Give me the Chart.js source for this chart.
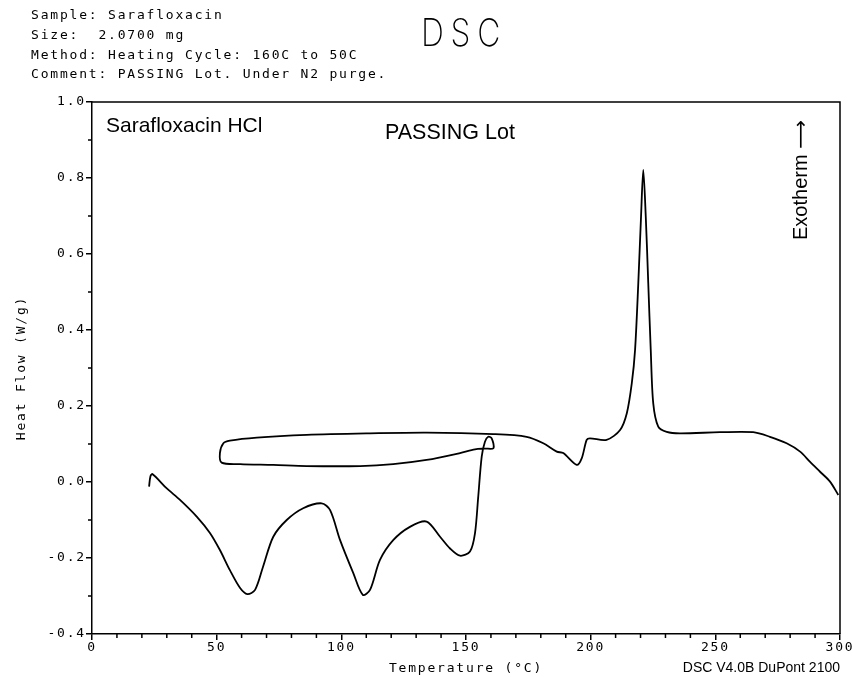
<!DOCTYPE html>
<html>
<head>
<meta charset="utf-8">
<title>DSC - Sarafloxacin</title>
<script src="https://cdn.jsdelivr.net/npm/chart.js@4.4.1/dist/chart.umd.min.js"></script>
<style>
  body { margin: 0; background: #fff; }
  #wrap { position: relative; width: 853px; height: 677px; }
  #dsc { position: absolute; left: 0; top: 0; }
  .hdr { position: absolute; left: 31px; font: 13px "DejaVu Sans Mono", monospace; letter-spacing: 1.8px; white-space: pre; color: #000; line-height: 15px; }
  #big { position: absolute; left: 421px; top: 13px; font: 200 38px Inter, "DejaVu Sans", sans-serif; letter-spacing: 8px; color: #000; transform: scaleX(0.84); transform-origin: left top; line-height: 38px; }
  #ver { position: absolute; right: 13px; top: 659px; font: 14px "Liberation Sans Narrow", "Arial Narrow", "Liberation Sans", sans-serif; color: #000; line-height: 16px; }
</style>
</head>
<body>
<div id="wrap">
  <canvas id="dsc" width="853" height="677"></canvas>
  <div class="hdr" style="top:7px">Sample: Sarafloxacin</div>
  <div class="hdr" style="top:27px">Size:  2.0700 mg</div>
  <div class="hdr" style="top:47px">Method: Heating Cycle: 160C to 50C</div>
  <div class="hdr" style="top:66px">Comment: PASSING Lot. Under N2 purge.</div>
  <div id="big">DSC</div>
  <div id="ver">DSC V4.0B DuPont 2100</div>
</div>
<script>
// first heating, 23C up to 160C
const heatTemp = [22.9, 23.4, 24.2, 30.0, 35.3, 42.0, 47.3, 51.3, 55.3, 59.4, 62.3, 65.4, 68.6, 72.7, 78.1, 84.7, 92.1, 95.5, 99.5, 104.8, 108.6, 111.5, 115.5, 120.8, 127.5, 134.2, 139.6, 143.6, 147.6, 151.6, 153.6, 154.9, 156.3, 157.6, 158.9, 160.3, 161.0];
const heatFlow = [-0.012, 0.014, 0.021, -0.017, -0.047, -0.091, -0.134, -0.179, -0.232, -0.279, -0.295, -0.284, -0.223, -0.144, -0.100, -0.069, -0.056, -0.074, -0.153, -0.240, -0.297, -0.284, -0.205, -0.153, -0.118, -0.104, -0.144, -0.175, -0.194, -0.183, -0.135, -0.039, 0.067, 0.106, 0.119, 0.115, 0.089];
// cooling back to 50C
const coolTemp = [157.5, 153.6, 147.6, 134.2, 120.8, 107.5, 86.1, 72.7, 59.4, 52.0];
const coolFlow = [0.088, 0.086, 0.076, 0.058, 0.047, 0.042, 0.042, 0.045, 0.047, 0.051];
// second heating up to 300C
const reheatTemp = [51.3, 52.7, 55.3, 66.1, 86.1, 111.5, 134.2, 161.0, 174.3, 181.0, 186.4, 189.0, 194.4, 196.4, 198.4, 199.7, 206.4, 211.8, 214.5, 216.5, 217.8, 219.1, 220.2, 221.1, 222.1, 223.1, 224.1, 225.1, 227.1, 230.5, 235.8, 251.9, 265.2, 271.9, 278.6, 284.0, 288.0, 292.0, 296.0, 299.3];
const reheatFlow = [0.076, 0.102, 0.109, 0.117, 0.124, 0.128, 0.130, 0.126, 0.119, 0.102, 0.080, 0.076, 0.045, 0.062, 0.111, 0.115, 0.111, 0.137, 0.181, 0.260, 0.347, 0.523, 0.698, 0.821, 0.698, 0.523, 0.347, 0.207, 0.146, 0.132, 0.128, 0.131, 0.131, 0.119, 0.102, 0.080, 0.053, 0.027, 0.001, -0.034];

const tempTicks = { min: 0, max: 300, step: 50, minor: 10 };
const flowTicks = { min: -0.4, max: 1.0, step: 0.2, minor: 0.1 };

const allTemp = heatTemp.concat(coolTemp, reheatTemp);
const allFlow = heatFlow.concat(coolFlow, reheatFlow);
const points = allTemp.map((t, i) => ({ x: t, y: allFlow[i] }));

const monoFont = { family: '"DejaVu Sans Mono", monospace', size: 13 };

// box, minor ticks and the text inside the plot
const framePlugin = {
  id: 'frame',
  beforeDraw(chart) {
    chart.ctx.letterSpacing = '1.8px';
  },
  afterDraw(chart) {
    const { ctx, chartArea: a, scales: { x, y } } = chart;
    ctx.save();
    ctx.strokeStyle = '#000';
    ctx.lineWidth = 1.5;
    ctx.beginPath();
    ctx.moveTo(a.left, a.top);
    ctx.lineTo(a.right, a.top);
    ctx.lineTo(a.right, a.bottom);
    for (let t = tempTicks.min + tempTicks.minor; t < tempTicks.max; t += tempTicks.minor) {
      if (Math.round(t) % tempTicks.step === 0) continue;
      const px = x.getPixelForValue(t);
      ctx.moveTo(px, a.bottom);
      ctx.lineTo(px, a.bottom + 4);
    }
    for (let v = flowTicks.min + flowTicks.minor; v < flowTicks.max; v += flowTicks.step) {
      const py = y.getPixelForValue(v);
      ctx.moveTo(a.left - 4, py);
      ctx.lineTo(a.left, py);
    }
    ctx.stroke();

    ctx.letterSpacing = '0px';
    ctx.fillStyle = '#000';
    ctx.font = '21px "Liberation Sans", Arial, sans-serif';
    ctx.textBaseline = 'alphabetic';
    ctx.textAlign = 'left';
    ctx.fillText('Sarafloxacin HCl', 106, 132);
    ctx.font = '21.5px "Liberation Sans", Arial, sans-serif';
    ctx.fillText('PASSING Lot', 385, 139);

    ctx.translate(807, 240);
    ctx.rotate(-Math.PI / 2);
    ctx.font = '20px "Liberation Sans", "DejaVu Sans", sans-serif';
    ctx.fillText('Exotherm \u27F6', 0, 0);
    ctx.restore();
  }
};

new Chart(document.getElementById('dsc'), {
  type: 'scatter',
  data: {
    datasets: [{
      data: points,
      showLine: true,
      borderColor: '#000',
      borderWidth: 1.8,
      pointRadius: 0,
      tension: 0.3,
      fill: false
    }]
  },
  options: {
    responsive: false,
    animation: false,
    devicePixelRatio: 1,
    layout: { padding: { top: 102, right: 13, left: 0, bottom: 0 } },
    plugins: {
      legend: { display: false },
      tooltip: { enabled: false }
    },
    scales: {
      x: {
        type: 'linear',
        min: tempTicks.min,
        max: tempTicks.max,
        afterFit(s) { s.height = 43; s.paddingLeft = 0; s.paddingRight = 0; },
        border: { color: '#000', width: 1.5 },
        grid: { drawOnChartArea: false, color: '#000', lineWidth: 1.5, tickLength: 6 },
        ticks: { stepSize: tempTicks.step, color: '#000', font: monoFont, padding: 0, maxRotation: 0 },
        title: { display: true, text: 'Temperature (°C)', color: '#000', font: monoFont, padding: { top: 0, bottom: 1 } }
      },
      y: {
        type: 'linear',
        min: flowTicks.min,
        max: flowTicks.max,
        afterFit(s) { s.width = 92; s.paddingTop = 0; s.paddingBottom = 0; },
        border: { color: '#000', width: 1.5 },
        grid: { drawOnChartArea: false, color: '#000', lineWidth: 1.5, tickLength: 6 },
        ticks: {
          stepSize: flowTicks.step,
          color: '#000',
          font: monoFont,
          padding: 0,
          callback: v => (Math.abs(v) < 1e-9 ? 0 : v).toFixed(1)
        },
        title: { display: true, text: 'Heat Flow (W/g)', color: '#000', font: monoFont, padding: { top: 14, bottom: 0 } }
      }
    }
  },
  plugins: [framePlugin]
});
</script>
</body>
</html>
